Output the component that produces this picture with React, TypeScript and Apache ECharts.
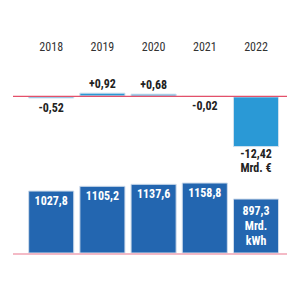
import React, { useEffect, useRef } from "react";
import * as echarts from "echarts";

const years = ["2018", "2019", "2020", "2021", "2022"];
const changeValues = [-0.52, 0.92, 0.68, -0.02, -12.42];
const consumption = [1027.8, 1105.2, 1137.6, 1158.8, 897.3];
const changeUnit = "Mrd. €";
const consumptionUnit = ["Mrd.", "kWh"];

const FONT = "'Roboto Condensed', 'Liberation Sans Narrow', 'Arial Narrow', 'DejaVu Sans Condensed', Roboto, sans-serif";

const fmt = (v: number) => v.toFixed(Math.abs(v) >= 100 ? 1 : 2).replace(".", ",");

export default function App() {
  const ref = useRef<HTMLDivElement>(null);
  useEffect(() => {
    if (!ref.current) return;
    const chart = echarts.init(ref.current, null, { renderer: "svg" });
    const last = years.length - 1;
    const changeData = changeValues.map((v, i) => ({
      value: v,
      label:
        i === last
          ? {
              position: "bottom",
              distance: 0,
              lineHeight: 14,
              formatter: () => fmt(v) + "\n" + changeUnit,
            }
          : {
              position: v >= 0 ? "top" : "bottom",
              distance: v >= 0 ? 2 : 3,
              lineHeight: 13,
              formatter: () => (v > 0 ? "+" : "") + fmt(v),
            },
    }));
    const consData = consumption.map((v, i) => ({
      value: v,
      label:
        i === last
          ? {
              formatter: () => fmt(v) + "\n" + consumptionUnit.join("\n"),
              lineHeight: 15,
              distance: 5,
            }
          : { formatter: () => fmt(v), lineHeight: 13, distance: 3.5 },
    }));
    chart.setOption({
      animation: false,
      grid: [
        { left: 25.6, right: 18.4, top: 76, height: 81.6 },
        { left: 25.6, right: 18.4, top: 180, height: 73.5 },
      ],
      xAxis: [
        {
          gridIndex: 0,
          type: "category",
          data: years,
          position: "top",
          axisLine: { show: false },
          axisTick: { show: false },
          axisLabel: {
            margin: 23,
            fontSize: 12,
            color: "#333",
            fontFamily: FONT,
          },
        },
        {
          gridIndex: 1,
          type: "category",
          data: years,
          show: false,
        },
      ],
      yAxis: [
        { gridIndex: 0, type: "value", min: -15, max: 5, show: false },
        { gridIndex: 1, type: "value", min: 0, max: 1200, show: false },
      ],
      series: [
        {
          type: "bar",
          xAxisIndex: 0,
          yAxisIndex: 0,
          data: changeData,
          barCategoryGap: "10%",
          itemStyle: { color: "#2a99d6", borderColor: "#cfe0ee", borderWidth: 1 },
          label: {
            show: true,
            fontSize: 12,
            fontWeight: "bold",
            color: "#222",
            fontFamily: FONT,
          },
        },
        {
          type: "bar",
          xAxisIndex: 1,
          yAxisIndex: 1,
          data: consData,
          barCategoryGap: "10%",
          itemStyle: { color: "#2366b0", borderColor: "#cfdcec", borderWidth: 1 },
          label: {
            show: true,
            position: "insideTop",
            fontSize: 12,
            fontWeight: "bold",
            color: "#fff",
            fontFamily: FONT,
          },
        },
      ],
    });
    const y0 = chart.convertToPixel({ yAxisIndex: 0 }, 0) as number;
    const y1 = chart.convertToPixel({ yAxisIndex: 1 }, 0) as number;
    chart.setOption({
      graphic: [
        {
          type: "line",
          shape: { x1: 13, y1: y0, x2: 287, y2: y0 },
          style: { stroke: "#e4506a", lineWidth: 1.2 },
          z: 100,
        },
        {
          type: "line",
          shape: { x1: 13, y1: y1 + 0.5, x2: 287, y2: y1 + 0.5 },
          style: { stroke: "#f1a3b3", lineWidth: 1.5 },
          z: 100,
        },
      ],
    });
    return () => chart.dispose();
  }, []);
  return (
    <div
      ref={ref}
      style={{ position: "fixed", left: 0, top: 0, width: 300, height: 300, background: "#fff" }}
    />
  );
}
